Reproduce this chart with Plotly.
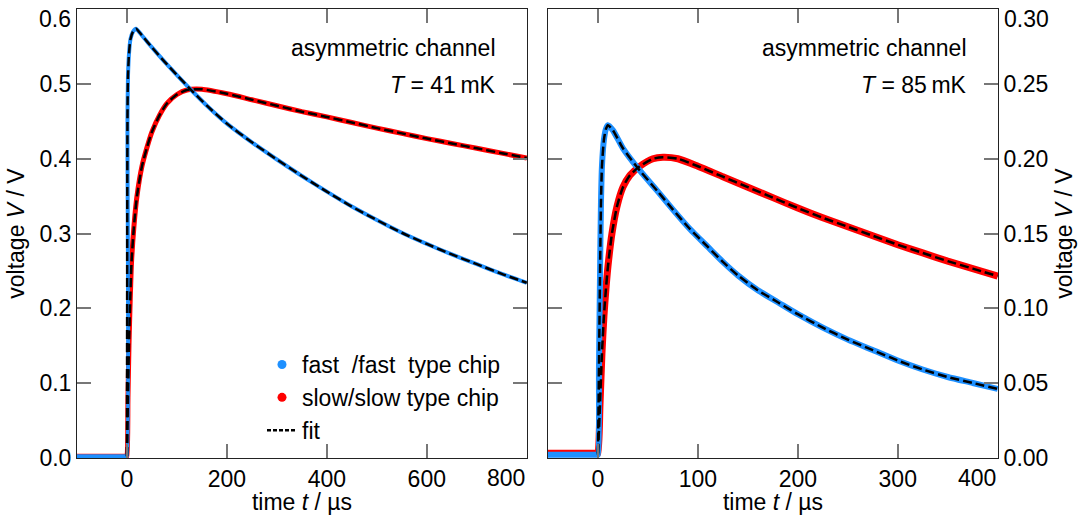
import plotly.graph_objects as go

# ---------------- data ----------------
# left panel, T = 41 mK
t_fast_41 = [-100, -50, -1, 0, 1, 2, 4, 7, 12, 18, 30, 50, 75, 100, 130, 160, 200, 250,
             300, 350, 400, 450, 500, 550, 600, 650, 700, 750, 800]
v_fast_41 = [0.002, 0.002, 0.002, 0.002, 0.45, 0.51, 0.54, 0.56, 0.570, 0.574, 0.565, 0.549,
             0.530, 0.512, 0.491, 0.471, 0.447, 0.422, 0.399, 0.377, 0.356, 0.336, 0.318,
             0.301, 0.286, 0.272, 0.259, 0.246, 0.234]
t_slow_41 = [-100, -50, -1, 0, 2, 4, 6, 9, 14, 20, 30, 40, 50, 65, 80, 100, 120, 150, 200,
             250, 300, 350, 400, 450, 500, 550, 600, 650, 700, 750, 800]
v_slow_41 = [0.002, 0.002, 0.002, 0.002, 0.08, 0.15, 0.20, 0.26, 0.31, 0.35, 0.39, 0.415,
             0.436, 0.458, 0.474, 0.486, 0.492, 0.493, 0.487, 0.479, 0.471, 0.463, 0.456,
             0.4485, 0.441, 0.434, 0.427, 0.4205, 0.414, 0.4075, 0.401]

# right panel, T = 85 mK
t_fast_85 = [-50, -25, -1, 0, 1, 2, 3, 4, 6, 8, 10, 15, 25, 42, 60, 75, 92, 110, 125, 140,
             160, 180, 200, 225, 250, 275, 300, 325, 350, 375, 400]
v_fast_85 = [0.002, 0.002, 0.002, 0.002, 0.06, 0.12, 0.17, 0.195, 0.213, 0.220, 0.2225,
             0.219, 0.207, 0.192, 0.178, 0.166, 0.153, 0.141, 0.131, 0.122, 0.112, 0.104,
             0.096, 0.087, 0.079, 0.072, 0.065, 0.059, 0.054, 0.050, 0.046]
t_slow_85 = [-50, -25, -1, 0, 2, 4, 6, 8, 10, 14, 19, 25, 32, 42, 55, 65, 80, 100, 125,
             150, 175, 200, 225, 250, 275, 300, 325, 350, 375, 400]
v_slow_85 = [0.003, 0.003, 0.003, 0.003, 0.035, 0.07, 0.095, 0.113, 0.128, 0.150, 0.168,
             0.181, 0.189, 0.195, 0.200, 0.201, 0.200, 0.195, 0.188, 0.181, 0.174, 0.167,
             0.1605, 0.1545, 0.1485, 0.1425, 0.137, 0.1315, 0.1265, 0.1215]

x_ticks_41 = [0, 200, 400, 600, 800]
y_ticks_41 = [0.0, 0.1, 0.2, 0.3, 0.4, 0.5, 0.6]
x_ticks_85 = [0, 100, 200, 300, 400]
y_ticks_85 = [0.00, 0.05, 0.10, 0.15, 0.20, 0.25, 0.30]

legend_names = ["fast\u00a0\u00a0/fast\u00a0\u00a0type chip", "slow/slow type chip", "fit"]
temps = ["41", "85"]

# ---------------- styling ----------------
BLUE = "#1E90FF"
RED = "#FF0000"
FONT = "Liberation Sans, Arial, sans-serif"
FS = 23
TXT = dict(family=FONT, size=FS, color="black")


def fit_part(t, v):
    """portion of the measured trace from the trigger on (t >= 0), used for the fit curve"""
    idx = [i for i, tt in enumerate(t) if tt >= 0]
    return [t[i] for i in idx], [v[i] for i in idx]


fig = go.Figure()

panels = [
    ("x", "y", t_fast_41, v_fast_41, t_slow_41, v_slow_41, 5),
    ("x2", "y2", t_fast_85, v_fast_85, t_slow_85, v_slow_85, 7),
]
for xa, ya, tf, vf, ts, vs, w in panels:
    fig.add_trace(go.Scatter(x=ts, y=vs, mode="lines",
                             line=dict(color=RED, width=w, shape="spline", smoothing=0.6),
                             xaxis=xa, yaxis=ya, showlegend=False))
    fig.add_trace(go.Scatter(x=tf, y=vf, mode="lines",
                             line=dict(color=BLUE, width=w - 1, shape="spline", smoothing=0.6),
                             xaxis=xa, yaxis=ya, showlegend=False))
    for t, v in ((ts, vs), (tf, vf)):
        ft, fv = fit_part(t, v)
        fig.add_trace(go.Scatter(x=ft, y=fv, mode="lines",
                                 line=dict(color="black", width=2.5, dash="9px,4px",
                                           shape="spline", smoothing=0.6),
                                 xaxis=xa, yaxis=ya, showlegend=False))

# legend-only entries
fig.add_trace(go.Scatter(x=[None], y=[None], mode="markers", name=legend_names[0],
                         marker=dict(color=BLUE, size=9)))
fig.add_trace(go.Scatter(x=[None], y=[None], mode="markers", name=legend_names[1],
                         marker=dict(color=RED, size=9)))
fig.add_trace(go.Scatter(x=[None], y=[None], mode="lines", name=legend_names[2],
                         line=dict(color="black", width=2.5, dash="4px,2px")))

W, H = 1081, 515
L, R, T, B = 77, 83, 9, 57
pw = W - L - R
ph = H - T - B
d1 = [0, (527 - L) / pw]
d2 = [(548 - L) / pw, 1]

common = dict(showline=True, linecolor="#222", linewidth=1,
              ticks="inside", ticklen=14, tickwidth=2, tickcolor="#777",
              showgrid=True, gridcolor="rgba(0,0,0,0)",
              zeroline=True, zerolinecolor="rgba(0,0,0,0)",
              automargin=False, ticklabeloverflow="allow",
              tickfont=TXT)

ttl_t = dict(text="time <i>t</i> / µs", font=TXT, standoff=0)
ttl_v = dict(text="voltage <i>V</i> / V", font=TXT, standoff=8)

# edge labels are pulled inside the frame (drawn as annotations below)
xt41 = [str(v) for v in x_ticks_41[:-1]] + [""]
yt41 = [f"{v:.1f}" for v in y_ticks_41[:-1]] + [""]
xt85 = [str(v) for v in x_ticks_85[:-1]] + [""]
yt85 = [f"{v:.2f}" for v in y_ticks_85[:-1]] + [""]

fig.update_layout(
    width=W, height=H,
    margin=dict(l=L, r=R, t=T, b=B),
    paper_bgcolor="white", plot_bgcolor="white",
    font=TXT,
    xaxis=dict(domain=d1, range=[-100, 800.5], tickvals=x_ticks_41, ticktext=xt41,
               title=ttl_t, anchor="y", mirror="ticks", **common),
    yaxis=dict(domain=[0, 1], range=[-0.0004, 0.6004], tickvals=y_ticks_41, ticktext=yt41,
               title=ttl_v, anchor="x", mirror="ticks", **common),
    xaxis2=dict(domain=d2, range=[-50, 400.3], tickvals=x_ticks_85, ticktext=xt85,
                title=ttl_t, anchor="y2", mirror="ticks", **common),
    yaxis2=dict(domain=[0, 1], range=[-0.0002, 0.3002], tickvals=y_ticks_85, ticktext=yt85,
                side="right", title=ttl_v, anchor="x2", mirror="ticks", **common),
    legend=dict(x=(262 - L) / pw, xanchor="left", y=(458 - 343) / ph, yanchor="top",
                bgcolor="rgba(0,0,0,0)", font=TXT, tracegroupgap=0, itemwidth=30),
    showlegend=True,
)

# edge tick labels
fig.add_annotation(text=f"{y_ticks_41[-1]:.1f}", xref="x domain", x=0, xanchor="right", xshift=-4,
                   yref="y", y=y_ticks_41[-1], yanchor="middle", yshift=-10,
                   showarrow=False, font=TXT)
fig.add_annotation(text=str(x_ticks_41[-1]), xref="x", x=x_ticks_41[-1], xanchor="right",
                   yref="y domain", y=0, yanchor="middle", yshift=-20,
                   showarrow=False, font=TXT)
fig.add_annotation(text=f"{y_ticks_85[-1]:.2f}", xref="x2 domain", x=1, xanchor="left", xshift=4,
                   yref="y2", y=y_ticks_85[-1], yanchor="middle", yshift=-10,
                   showarrow=False, font=TXT)
fig.add_annotation(text=str(x_ticks_85[-1]), xref="x2", x=x_ticks_85[-1], xanchor="right",
                   yref="y2 domain", y=0, yanchor="middle", yshift=-20,
                   showarrow=False, font=TXT)

for xr, temp in (("x", temps[0]), ("x2", temps[1])):
    fig.add_annotation(text="asymmetric channel", xref=f"{xr} domain", yref="y domain",
                       x=0.936, y=0.913, xanchor="right", yanchor="middle", showarrow=False,
                       font=TXT)
    fig.add_annotation(text=f"<i>T</i> = {temp}\u2009mK", xref=f"{xr} domain", yref="y domain",
                       x=0.936, y=0.83, xanchor="right", yanchor="middle", showarrow=False,
                       font=TXT)

fig.write_html("out.html")
